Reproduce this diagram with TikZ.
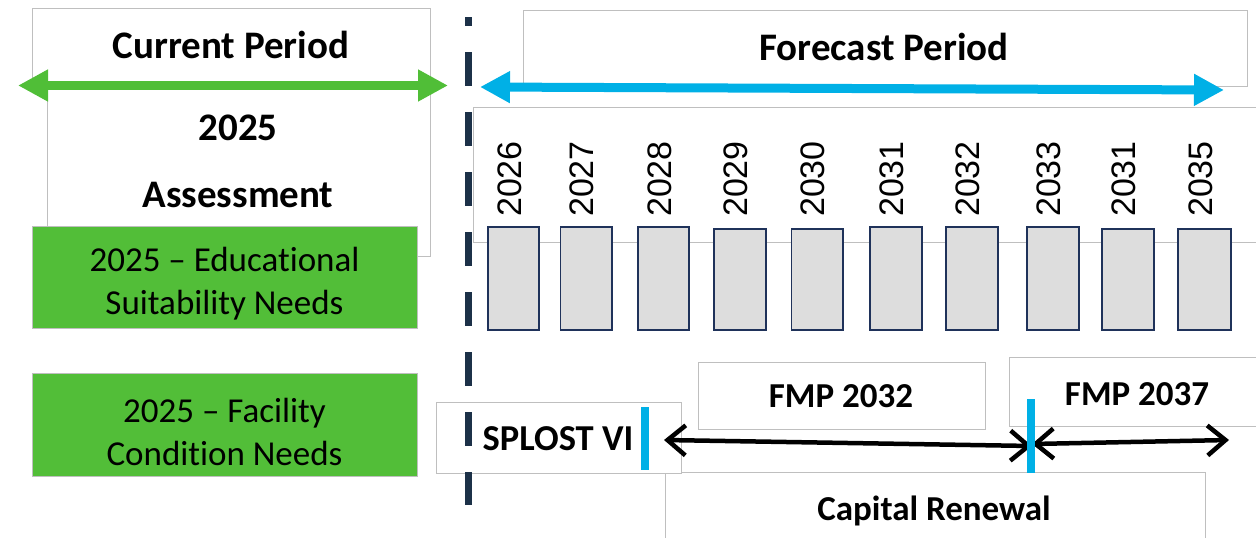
\documentclass[tikz,border=0pt]{standalone}
\usepackage{fontspec}
\setmainfont{Carlito}[Ligatures=NoCommon]
\newfontfamily\arialf{Liberation Sans}
\usetikzlibrary{arrows.meta}
\definecolor{gbox}{RGB}{82,190,56}
\definecolor{garrow}{RGB}{80,190,55}
\definecolor{barrow}{RGB}{0,176,230}
\definecolor{navy}{RGB}{31,50,90}
\definecolor{dashc}{RGB}{28,49,72}
\definecolor{edgec}{RGB}{191,191,191}
\definecolor{barfill}{RGB}{221,221,221}
\tikzset{
  outline/.style={draw=edgec, line width=1pt, fill=white},
  titletext/.style={font=\fontsize{39}{47}\selectfont\bfseries, anchor=base, inner sep=0pt},
  boldlabel/.style={font=\fontsize{35}{43}\selectfont\bfseries, anchor=base, inner sep=0pt},
  greenbox/.style={fill=gbox, draw=edgec, line width=1pt},
  gtext/.style={font=\fontsize{35}{43}\selectfont, align=center, inner sep=0pt},
  yearlab/.style={font=\arialf\fontsize{34}{40}\selectfont, rotate=90, inner sep=0pt},
  yearbar/.style={fill=barfill, draw=navy, line width=1.5pt},
  fatarrow/.style={line width=9pt, {Triangle[length=30pt,width=30pt]}-{Triangle[length=30pt,width=30pt]}},
  thinarrow/.style={line width=4.5pt, black, {Straight Barb[length=18pt,width=30pt]}-{Straight Barb[length=18pt,width=30pt]}},
  bluebar/.style={barrow, line width=8pt},
  dashline/.style={dashc, line width=7pt, dash pattern=on 34pt off 26pt, dash phase=25pt}
}
\begin{document}
\begin{tikzpicture}[x=1pt,y=-1pt]
\useasboundingbox (0,0) rectangle (1256,538);
% current period
\draw[outline] (32,8) rectangle (430,86);
\draw[outline] (47,86) rectangle (430,256);
\node[titletext] (cur) at (231,58) {Current Period};
\coordinate (gl) at (18,85.5);
\coordinate (gr) at (448,85.5);
\draw[fatarrow, garrow] (gl) -- (gr);
\node[titletext] (y25) at (238,140) {2025};
\node[titletext] (ass) at (238,207) {Assessment};
% forecast period
\draw[outline] (523,10) rectangle (1247,86);
\node[titletext] (fore) at (884,60) {Forecast Period};
\coordinate (bl) at (480,87);
\coordinate (br) at (1224,90);
\draw[fatarrow, barrow] (bl) -- (br);
% years
\draw[outline] (473,107) rectangle (1270,242);
\foreach \xl/\xr/\yt/\lab [count=\i] in {488/539/227/2026, 560.5/612/227/2027, 638/689/227/2028, 714/766/229/2029, 791.5/843/229/2030, 870/922/227/2031, 946/998/227/2032, 1027/1079/227/2033, 1102/1154/229/2031, 1178/1231/229/2035}{
  \draw[yearbar] (\xl,\yt) rectangle (\xr,330);
  \node[yearlab] (yr\i) at ({(\xl+\xr)/2-4},179) {\lab};
}
% green boxes
\draw[greenbox] (32,226) rectangle (417,328);
\node[gtext] (edu) at (224.5,284) {2025 -- Educational\\Suitability Needs};
\draw[greenbox] (32,373) rectangle (417,476);
\node[gtext] (fac) at (224.5,432) {2025 -- Facility\\Condition Needs};
% bottom timeline
\draw[outline] (665,472) rectangle (1205,560);
\node[boldlabel] (cap) at (934,520) {Capital Renewal};
\draw[outline] (436,402) rectangle (681,473);
\node[boldlabel, font=\fontsize{36.5}{43}\selectfont\bfseries] (spl) at (558,450) {SPLOST VI};
\draw[outline] (698,362) rectangle (985,429);
\node[boldlabel] (f32) at (841,407) {FMP 2032};
\draw[outline] (1009,357) rectangle (1270,426);
\node[boldlabel] (f37) at (1137,405) {FMP 2037};
\coordinate (a1l) at (664,440);
\coordinate (a1r) at (1032,446);
\coordinate (a2l) at (1032,444);
\coordinate (a2r) at (1229,440);
\draw[thinarrow] (a1l) -- (a1r);
\draw[thinarrow] (a2l) -- (a2r);
\coordinate (b1t) at (645,407);
\coordinate (b1b) at (645,470);
\coordinate (b2t) at (1031,399);
\coordinate (b2b) at (1031,473);
\draw[bluebar] (b1t) -- (b1b);
\draw[bluebar] (b2t) -- (b2b);
% dashed divider
\coordinate (dt) at (468,17);
\coordinate (db) at (468,505);
\draw[dashline] (dt) -- (db);
\end{tikzpicture}
\end{document}
